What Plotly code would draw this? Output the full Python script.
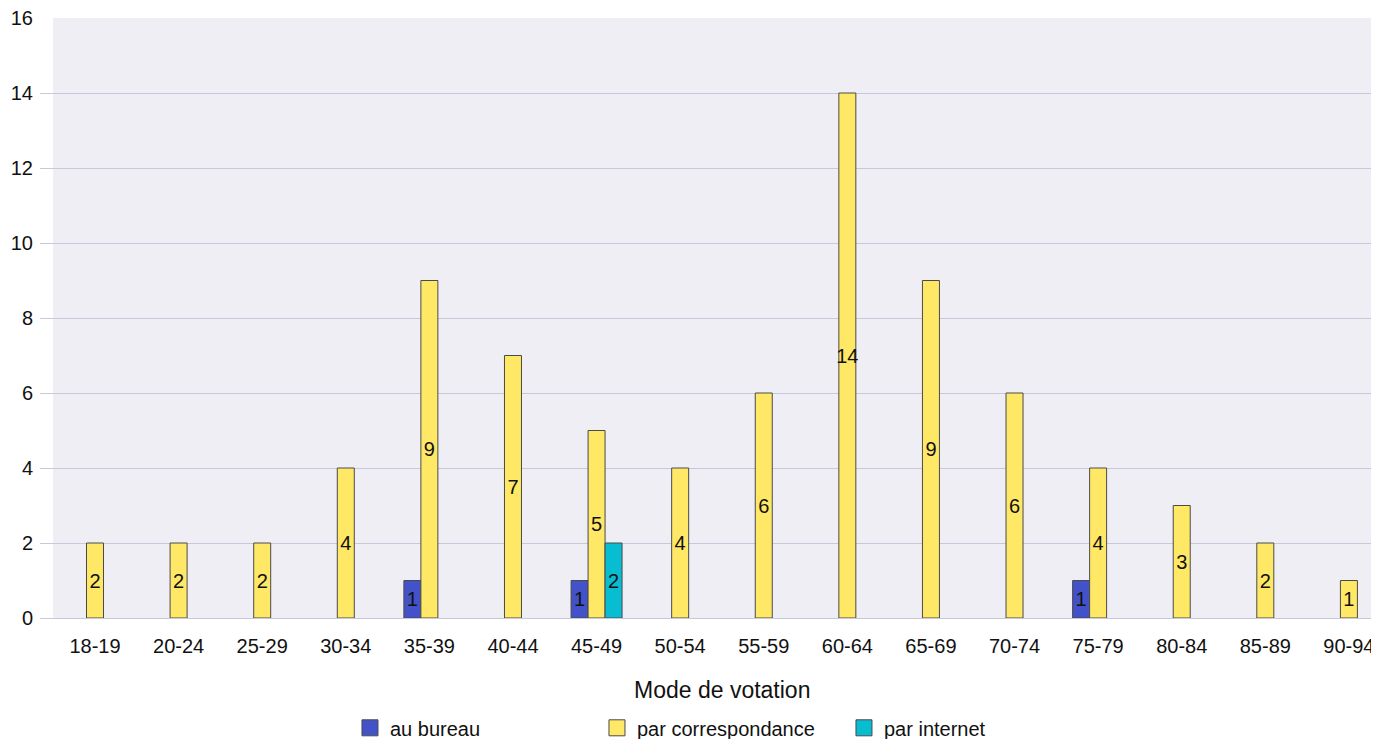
import plotly.graph_objects as go

categories = ["18-19", "20-24", "25-29", "30-34", "35-39", "40-44", "45-49", "50-54",
              "55-59", "60-64", "65-69", "70-74", "75-79", "80-84", "85-89", "90-94"]
au_bureau = [None, None, None, None, 1, None, 1, None, None, None, None, None, 1, None, None, None]
par_correspondance = [2, 2, 2, 4, 9, 7, 5, 4, 6, 14, 9, 6, 4, 3, 2, 1]
par_internet = [None, None, None, None, None, None, 2, None, None, None, None, None, None, None, None, None]

series = [
    ("au bureau", au_bureau, "#4352c9"),
    ("par correspondance", par_correspondance, "#ffe866"),
    ("par internet", par_internet, "#08bcd2"),
]

FONT = "Liberation Sans, Arial, sans-serif"
fig = go.Figure()
for name, vals, color in series:
    fig.add_trace(go.Bar(
        name=name, x=categories, y=vals, showlegend=False,
        marker=dict(color=color, line=dict(color="#4a4a4a", width=1)),
        text=[("" if v is None else str(v)) for v in vals],
        textposition="inside", insidetextanchor="middle", textangle=0,
        constraintext="none", cliponaxis=False,
        textfont=dict(color="#111111", size=20, family=FONT),
        hoverinfo="x+y+name",
    ))
# legend entries with larger square symbols
for name, vals, color in series:
    fig.add_trace(go.Scatter(
        name=name, x=[None], y=[None], mode="markers",
        marker=dict(symbol="square", size=16, color=color, line=dict(color="#4a4a4a", width=1)),
        showlegend=True, hoverinfo="skip",
    ))

fig.add_shape(type="rect", xref="paper", yref="paper", x0=13/1339, x1=1, y0=0, y1=1,
              fillcolor="#efeef4", line=dict(width=0), layer="below")

fig.add_annotation(text="Mode de votation", xref="paper", yref="paper",
                   x=0.5093, y=-0.12, xanchor="center", yanchor="middle", showarrow=False,
                   font=dict(size=23, family=FONT, color="#111111"))

fig.update_layout(
    width=1371, height=731,
    margin=dict(l=32, r=0, t=10, b=121, autoexpand=False),
    paper_bgcolor="white", plot_bgcolor="white",
    barmode="group", bargap=0.39, bargroupgap=0,
    font=dict(family=FONT, size=20, color="#111111"),
    legend=dict(orientation="h", x=0.2315, xanchor="left", y=-0.183, yanchor="middle",
                font=dict(size=20, family=FONT, color="#111111"),
                entrywidth=202, entrywidthmode="pixels", itemsizing="trace",
                bgcolor="rgba(0,0,0,0)"),
    xaxis=dict(range=[-0.658, 15.36], showgrid=False, zeroline=False, showline=False,
               ticks="", tickfont=dict(size=20, family=FONT, color="#111111"),
               ticklabelstandoff=14, automargin=False, ticklabeloverflow="allow"),
    yaxis=dict(range=[0, 16], dtick=2, showgrid=True, gridcolor="#c9c8da", gridwidth=1,
               zeroline=True, zerolinecolor="#c9c8da", zerolinewidth=1, showline=False,
               ticks="", tickfont=dict(size=20, family=FONT, color="#111111"),
               ticklabelstandoff=6, automargin=False, ticklabeloverflow="allow"),
)

fig.write_html("out.html")
